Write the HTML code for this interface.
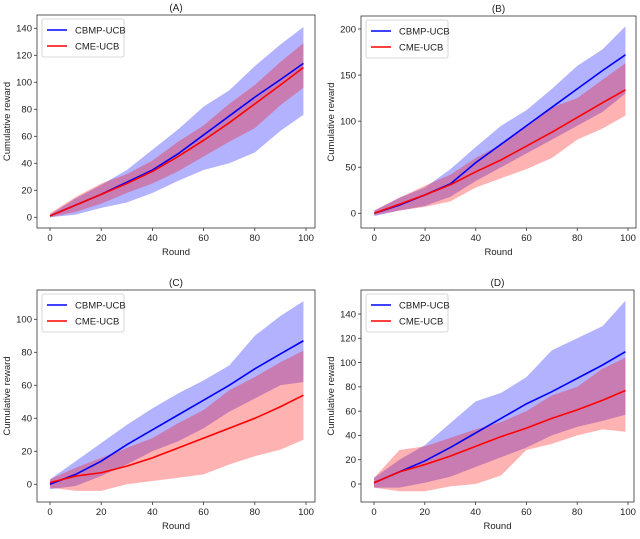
<!DOCTYPE html>
<html><head><meta charset="utf-8"><style>
body{margin:0;background:#fff;width:640px;height:534px;overflow:hidden}
svg{font-family:"Liberation Sans","DejaVu Sans",sans-serif}
</style></head><body>
<svg id="fig" width="640" height="534" viewBox="0 0 640 534" xmlns="http://www.w3.org/2000/svg"></svg>
<script>
const xRounds=[0,10,20,30,40,50,60,70,80,90,99];
const seriesNames=["CBMP-UCB","CME-UCB"];
const panelTitles=["(A)","(B)","(C)","(D)"];
const yTicksA=[0,20,40,60,80,100,120,140];
const yTicksB=[0,50,100,150,200];
const yTicksC=[0,20,40,60,80,100];
const yTicksD=[0,20,40,60,80,100,120,140];
const xTicks=[0,20,40,60,80,100];
// A
const aBlueMean=[1,9,17,26,35,47,61,75,89,102,114];
const aBlueLo=[0,2,7,11,18,27,35,40,48,64,76];
const aBlueHi=[2,14,24,35,50,65,82,94,112,128,141];
const aRedMean=[1,9,17,25,34,45,57,70,84,98,111];
const aRedLo=[0,4,10,18,25,34,45,56,66,83,96];
const aRedHi=[3,15,25,32,42,56,68,84,98,115,129];
// B
const bBlueMean=[0,9,20,32,55,75,95,115,135,155,172];
const bBlueLo=[-3,3,8,18,35,50,65,80,95,110,130];
const bBlueHi=[3,17,28,48,72,95,112,135,160,178,203];
const bRedMean=[0,10,20,31,45,58,73,88,104,120,134];
const bRedLo=[-2,3,7,13,28,38,48,60,80,92,106];
const bRedHi=[3,17,30,42,60,75,95,115,125,145,163];
// C
const cBlueMean=[0,6,14,24,33,42,51,60,70,79,87];
const cBlueLo=[-3,-1,5,12,20,26,34,44,52,60,62];
const cBlueHi=[3,14,25,36,46,55,63,72,90,102,111];
const cRedMean=[1,5,7,11,16,22,28,34,40,47,54];
const cRedLo=[-2,-4,-4,0,2,4,6,12,17,21,27];
const cRedHi=[3,10,16,22,28,37,45,57,65,74,81];
// D
const dBlueMean=[1,10,19,30,42,54,66,76,87,98,109];
const dBlueLo=[-3,-3,1,6,14,22,30,40,47,52,57];
const dBlueHi=[5,20,32,50,68,75,88,110,120,130,151];
const dRedMean=[1,10,16,23,31,39,46,54,61,69,77];
const dRedLo=[-3,-6,-6,-2,0,7,28,33,40,45,43];
const dRedHi=[5,28,31,38,45,51,60,73,80,95,104];

const panels=[
 {box:[37,15,315,228],x0:50,x100:306,y0px:217.3,yv:140,yvpx:28.3,ticks:yTicksA,d:[aBlueMean,aBlueLo,aBlueHi,aRedMean,aRedLo,aRedHi]},
 {box:[361,16,636,228],x0:374.3,x100:628,y0px:213.3,yv:200,yvpx:29,ticks:yTicksB,d:[bBlueMean,bBlueLo,bBlueHi,bRedMean,bRedLo,bRedHi]},
 {box:[37,290,315,502],x0:50,x100:306,y0px:484.3,yv:100,yvpx:319.3,ticks:yTicksC,d:[cBlueMean,cBlueLo,cBlueHi,cRedMean,cRedLo,cRedHi]},
 {box:[361,290,634,502],x0:374,x100:628,y0px:484,yv:140,yvpx:314,ticks:yTicksD,d:[dBlueMean,dBlueLo,dBlueHi,dRedMean,dRedLo,dRedHi]}
];
const NS="http://www.w3.org/2000/svg";
const svg=document.getElementById('fig');
function mk(tag,attrs,parent,text){const e=document.createElementNS(NS,tag);for(const k in attrs)e.setAttribute(k,attrs[k]);if(text!==undefined)e.textContent=text;parent.appendChild(e);return e;}
panels.forEach((p,i)=>{
 const g=mk('g',{},svg);
 
 
 const X=v=>p.x0+(p.x100-p.x0)*v/100;
 const Y=v=>p.y0px+(p.yvpx-p.y0px)*v/p.yv;
 const [l,t,r,b]=p.box;
 const band=(lo,hi,col,name)=>{let s='M'+xRounds.map((x,k)=>X(x)+','+Y(hi[k])).join('L');
  for(let k=xRounds.length-1;k>=0;k--)s+='L'+X(xRounds[k])+','+Y(lo[k]);
  const e=mk('path',{d:s+'Z',fill:col,stroke:'none'},g);
  
  };
 const line=(m,col,name)=>{const e=mk('polyline',{points:xRounds.map((x,k)=>X(x)+','+Y(m[k])).join(' '),fill:'none',stroke:col,'stroke-width':1.6},g);
  
  };
 band(p.d[1],p.d[2],'rgba(0,0,255,0.3)','cbmp-band');
 band(p.d[4],p.d[5],'rgba(255,0,0,0.3)','cme-band');
 line(p.d[0],'#0000ff','cbmp-line');
 line(p.d[3],'#ff0000','cme-line');
 const fr=mk('rect',{x:l,y:t,width:r-l,height:b-t,fill:'none',stroke:'#333','stroke-width':0.8},g);
 
 
 xTicks.forEach(v=>{mk('line',{x1:X(v),x2:X(v),y1:b,y2:b+3,stroke:'#333','stroke-width':0.8},g);
  const tx=mk('text',{x:X(v),y:b+13,'font-size':9.5,'text-anchor':'middle',fill:'#222'},g,String(v));
  
  });
 p.ticks.forEach(v=>{mk('line',{x1:l-3,x2:l,y1:Y(v),y2:Y(v),stroke:'#333','stroke-width':0.8},g);
  const tx=mk('text',{x:l-5,y:Y(v)+3.3,'font-size':9.5,'text-anchor':'end',fill:'#222'},g,String(v));
  
  });
 const ti=mk('text',{x:(l+r)/2,y:t-4,'font-size':10,'text-anchor':'middle',fill:'#222'},g,panelTitles[i]);
 
 
 const xl=mk('text',{x:(l+r)/2,y:b+27,'font-size':9.5,'text-anchor':'middle',fill:'#222'},g,'Round');
 
 
 const ycx=l-27;
 const yl=mk('text',{x:ycx,y:(t+b)/2,'font-size':9.5,'text-anchor':'middle',fill:'#222',transform:`rotate(-90 ${ycx} ${(t+b)/2})`},g,'Cumulative reward');
 
 
 const lg=mk('g',{},g);
 
 
 mk('rect',{x:l+5,y:t+4,width:82,height:38,fill:'#fff','fill-opacity':0.85,stroke:'#ccc','stroke-width':0.8,rx:2},lg);
 seriesNames.forEach((n,k)=>{const yy=t+15+k*16;
  mk('line',{x1:l+10,x2:l+30,y1:yy,y2:yy,stroke:k?'#ff0000':'#0000ff','stroke-width':1.6},lg);
  const e=mk('text',{x:l+38,y:yy+3.3,'font-size':9.5,fill:'#222'},lg,n);
  
  });
});
</script>
</body></html>
